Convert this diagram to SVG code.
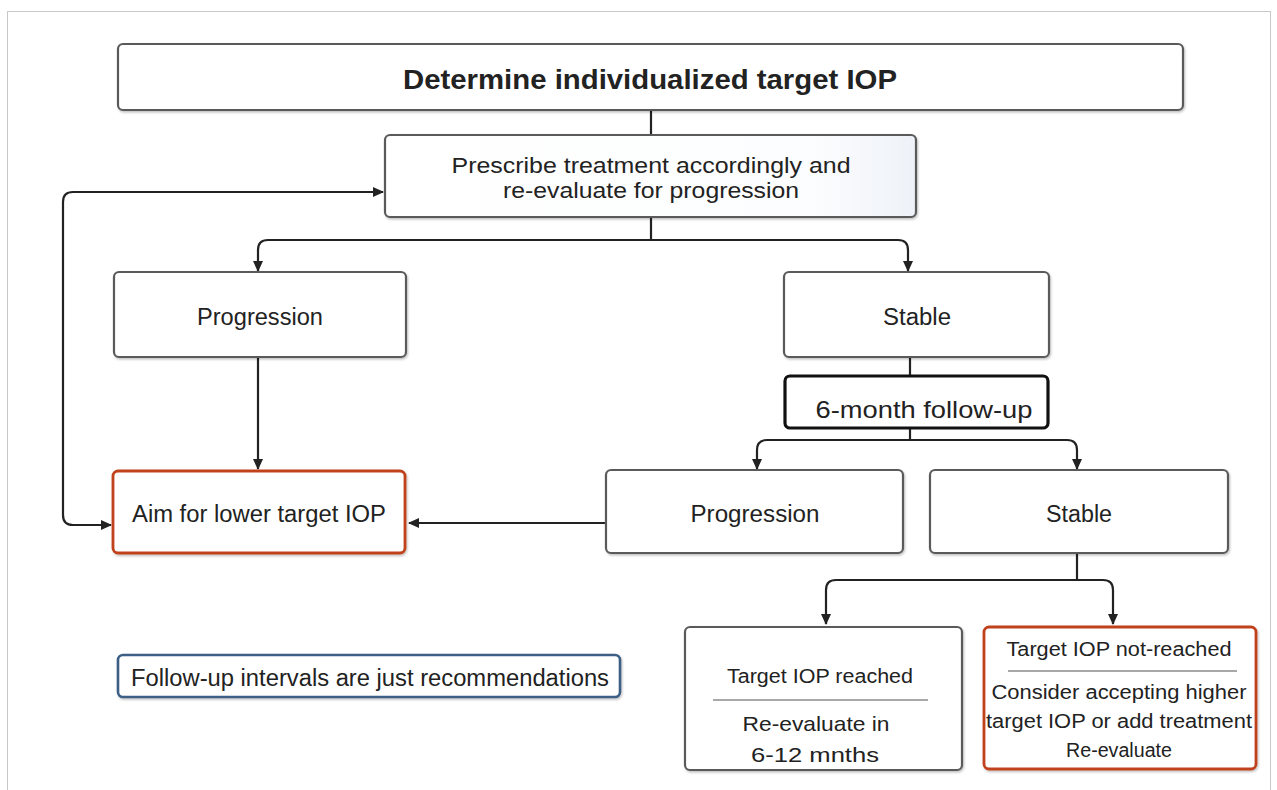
<svg xmlns="http://www.w3.org/2000/svg" width="1277" height="790" viewBox="0 0 1277 790">
<style>
text{font-family:"Liberation Sans",Arial,sans-serif;fill:#222;text-anchor:middle}
.box{fill:#fff;stroke:#5a5a5a;stroke-width:2.2}
.red{fill:#fff;stroke:#c0421f;stroke-width:2.8}
.conn{fill:none;stroke:#222;stroke-width:2.2}
.sep{stroke:#a8a8a8;stroke-width:2}
</style>
<defs>
<linearGradient id="g1" x1="0" y1="0" x2="1" y2="0">
<stop offset="0" stop-color="#ffffff"/>
<stop offset="0.8" stop-color="#fcfdfe"/>
<stop offset="1" stop-color="#eef2f8"/>
</linearGradient>
<filter id="sh" x="-5%" y="-5%" width="110%" height="115%">
<feDropShadow dx="1" dy="1.5" stdDeviation="1" flood-color="#000" flood-opacity="0.25"/>
</filter>
<marker id="ah" markerWidth="12" markerHeight="12" refX="10" refY="6" orient="auto-start-reverse" markerUnits="userSpaceOnUse">
<path d="M0,1 L11,6 L0,11 Z" fill="#222"/>
</marker>
</defs>
<rect x="7.5" y="11.5" width="1263" height="790" fill="#fff" stroke="#c8c8c8" stroke-width="1"/>

<g id="connectors">
<path class="conn" d="M651,110 V135"/>
<path class="conn" d="M651,217 V240 H268 Q258,240 258,250 V271" marker-end="url(#ah)"/>
<path class="conn" d="M651,240 H898 Q908,240 908,250 V271" marker-end="url(#ah)"/>
<path class="conn" d="M383,192 H73 Q63,192 63,202 V515 Q63,525 73,525 H111" marker-start="url(#ah)" marker-end="url(#ah)"/>
<path class="conn" d="M258,357 V469" marker-end="url(#ah)"/>
<path class="conn" d="M910,357 V376"/>
<path class="conn" d="M910,428 V440 H767 Q757,440 757,450 V469" marker-end="url(#ah)"/>
<path class="conn" d="M910,440 H1067 Q1077,440 1077,450 V469" marker-end="url(#ah)"/>
<path class="conn" d="M606,523 H409" marker-end="url(#ah)"/>
<path class="conn" d="M1077,553 V580 H836 Q826,580 826,590 V624" marker-end="url(#ah)"/>
<path class="conn" d="M1077,580 H1103 Q1113,580 1113,590 V624" marker-end="url(#ah)"/>
</g>

<g id="n-target">
<rect class="box" x="118" y="44" width="1065" height="66" rx="5" filter="url(#sh)"/>
<text x="650" y="89" font-size="28" font-weight="bold" textLength="494" lengthAdjust="spacingAndGlyphs">Determine individualized target IOP</text>
</g>

<g id="n-prescribe">
<rect x="385" y="135" width="531" height="82" rx="5" fill="url(#g1)" stroke="#5a5a5a" stroke-width="2.2" filter="url(#sh)"/>
<text x="651" y="173" font-size="22" textLength="399" lengthAdjust="spacingAndGlyphs">Prescribe treatment accordingly and</text>
<text x="651" y="198" font-size="22" textLength="296" lengthAdjust="spacingAndGlyphs">re-evaluate for progression</text>
</g>

<g id="n-progression1">
<rect class="box" x="114" y="272" width="292" height="85" rx="5" filter="url(#sh)"/>
<text x="260" y="325" font-size="23" textLength="126" lengthAdjust="spacingAndGlyphs">Progression</text>
</g>

<g id="n-stable1">
<rect class="box" x="784" y="272" width="265" height="85" rx="5" filter="url(#sh)"/>
<text x="917" y="325" font-size="23" textLength="68" lengthAdjust="spacingAndGlyphs">Stable</text>
</g>

<g id="n-followup6">
<rect x="785" y="376" width="263" height="52" rx="5" fill="#fff" stroke="#111" stroke-width="3.2"/>
<text x="924" y="418" font-size="24" textLength="217" lengthAdjust="spacingAndGlyphs">6-month follow-up</text>
</g>

<g id="n-aim">
<rect class="red" x="113" y="471" width="292" height="82" rx="5" filter="url(#sh)"/>
<text x="259" y="522" font-size="23" textLength="254" lengthAdjust="spacingAndGlyphs">Aim for lower target IOP</text>
</g>

<g id="n-progression2">
<rect class="box" x="606" y="470" width="297" height="83" rx="5" filter="url(#sh)"/>
<text x="755" y="522" font-size="23" textLength="129" lengthAdjust="spacingAndGlyphs">Progression</text>
</g>

<g id="n-stable2">
<rect class="box" x="930" y="470" width="298" height="83" rx="5" filter="url(#sh)"/>
<text x="1079" y="522" font-size="23" textLength="66" lengthAdjust="spacingAndGlyphs">Stable</text>
</g>

<g id="n-note">
<rect x="118" y="655" width="502" height="42" rx="5" fill="#fff" stroke="#3c5f86" stroke-width="2.6" filter="url(#sh)"/>
<text x="370" y="686" font-size="23" textLength="478" lengthAdjust="spacingAndGlyphs">Follow-up intervals are just recommendations</text>
</g>

<g id="n-reached">
<rect class="box" x="685" y="627" width="277" height="143" rx="5" filter="url(#sh)"/>
<text x="820" y="683" font-size="20" textLength="186" lengthAdjust="spacingAndGlyphs">Target IOP reached</text>
<line class="sep" x1="713" y1="700" x2="928" y2="700"/>
<text x="816" y="731" font-size="21" textLength="147" lengthAdjust="spacingAndGlyphs">Re-evaluate in</text>
<text x="815" y="762" font-size="21" textLength="128" lengthAdjust="spacingAndGlyphs">6-12 mnths</text>
</g>

<g id="n-notreached">
<rect class="red" x="984" y="627" width="272" height="142" rx="5" filter="url(#sh)"/>
<text x="1119" y="656" font-size="20" textLength="225" lengthAdjust="spacingAndGlyphs">Target IOP not-reached</text>
<line class="sep" x1="1008" y1="671" x2="1237" y2="671"/>
<text x="1119" y="699" font-size="20" textLength="255" lengthAdjust="spacingAndGlyphs">Consider accepting higher</text>
<text x="1119" y="728" font-size="20" textLength="266" lengthAdjust="spacingAndGlyphs">target IOP or add treatment</text>
<text x="1119" y="757" font-size="20" textLength="106" lengthAdjust="spacingAndGlyphs">Re-evaluate</text>
</g>
</svg>
